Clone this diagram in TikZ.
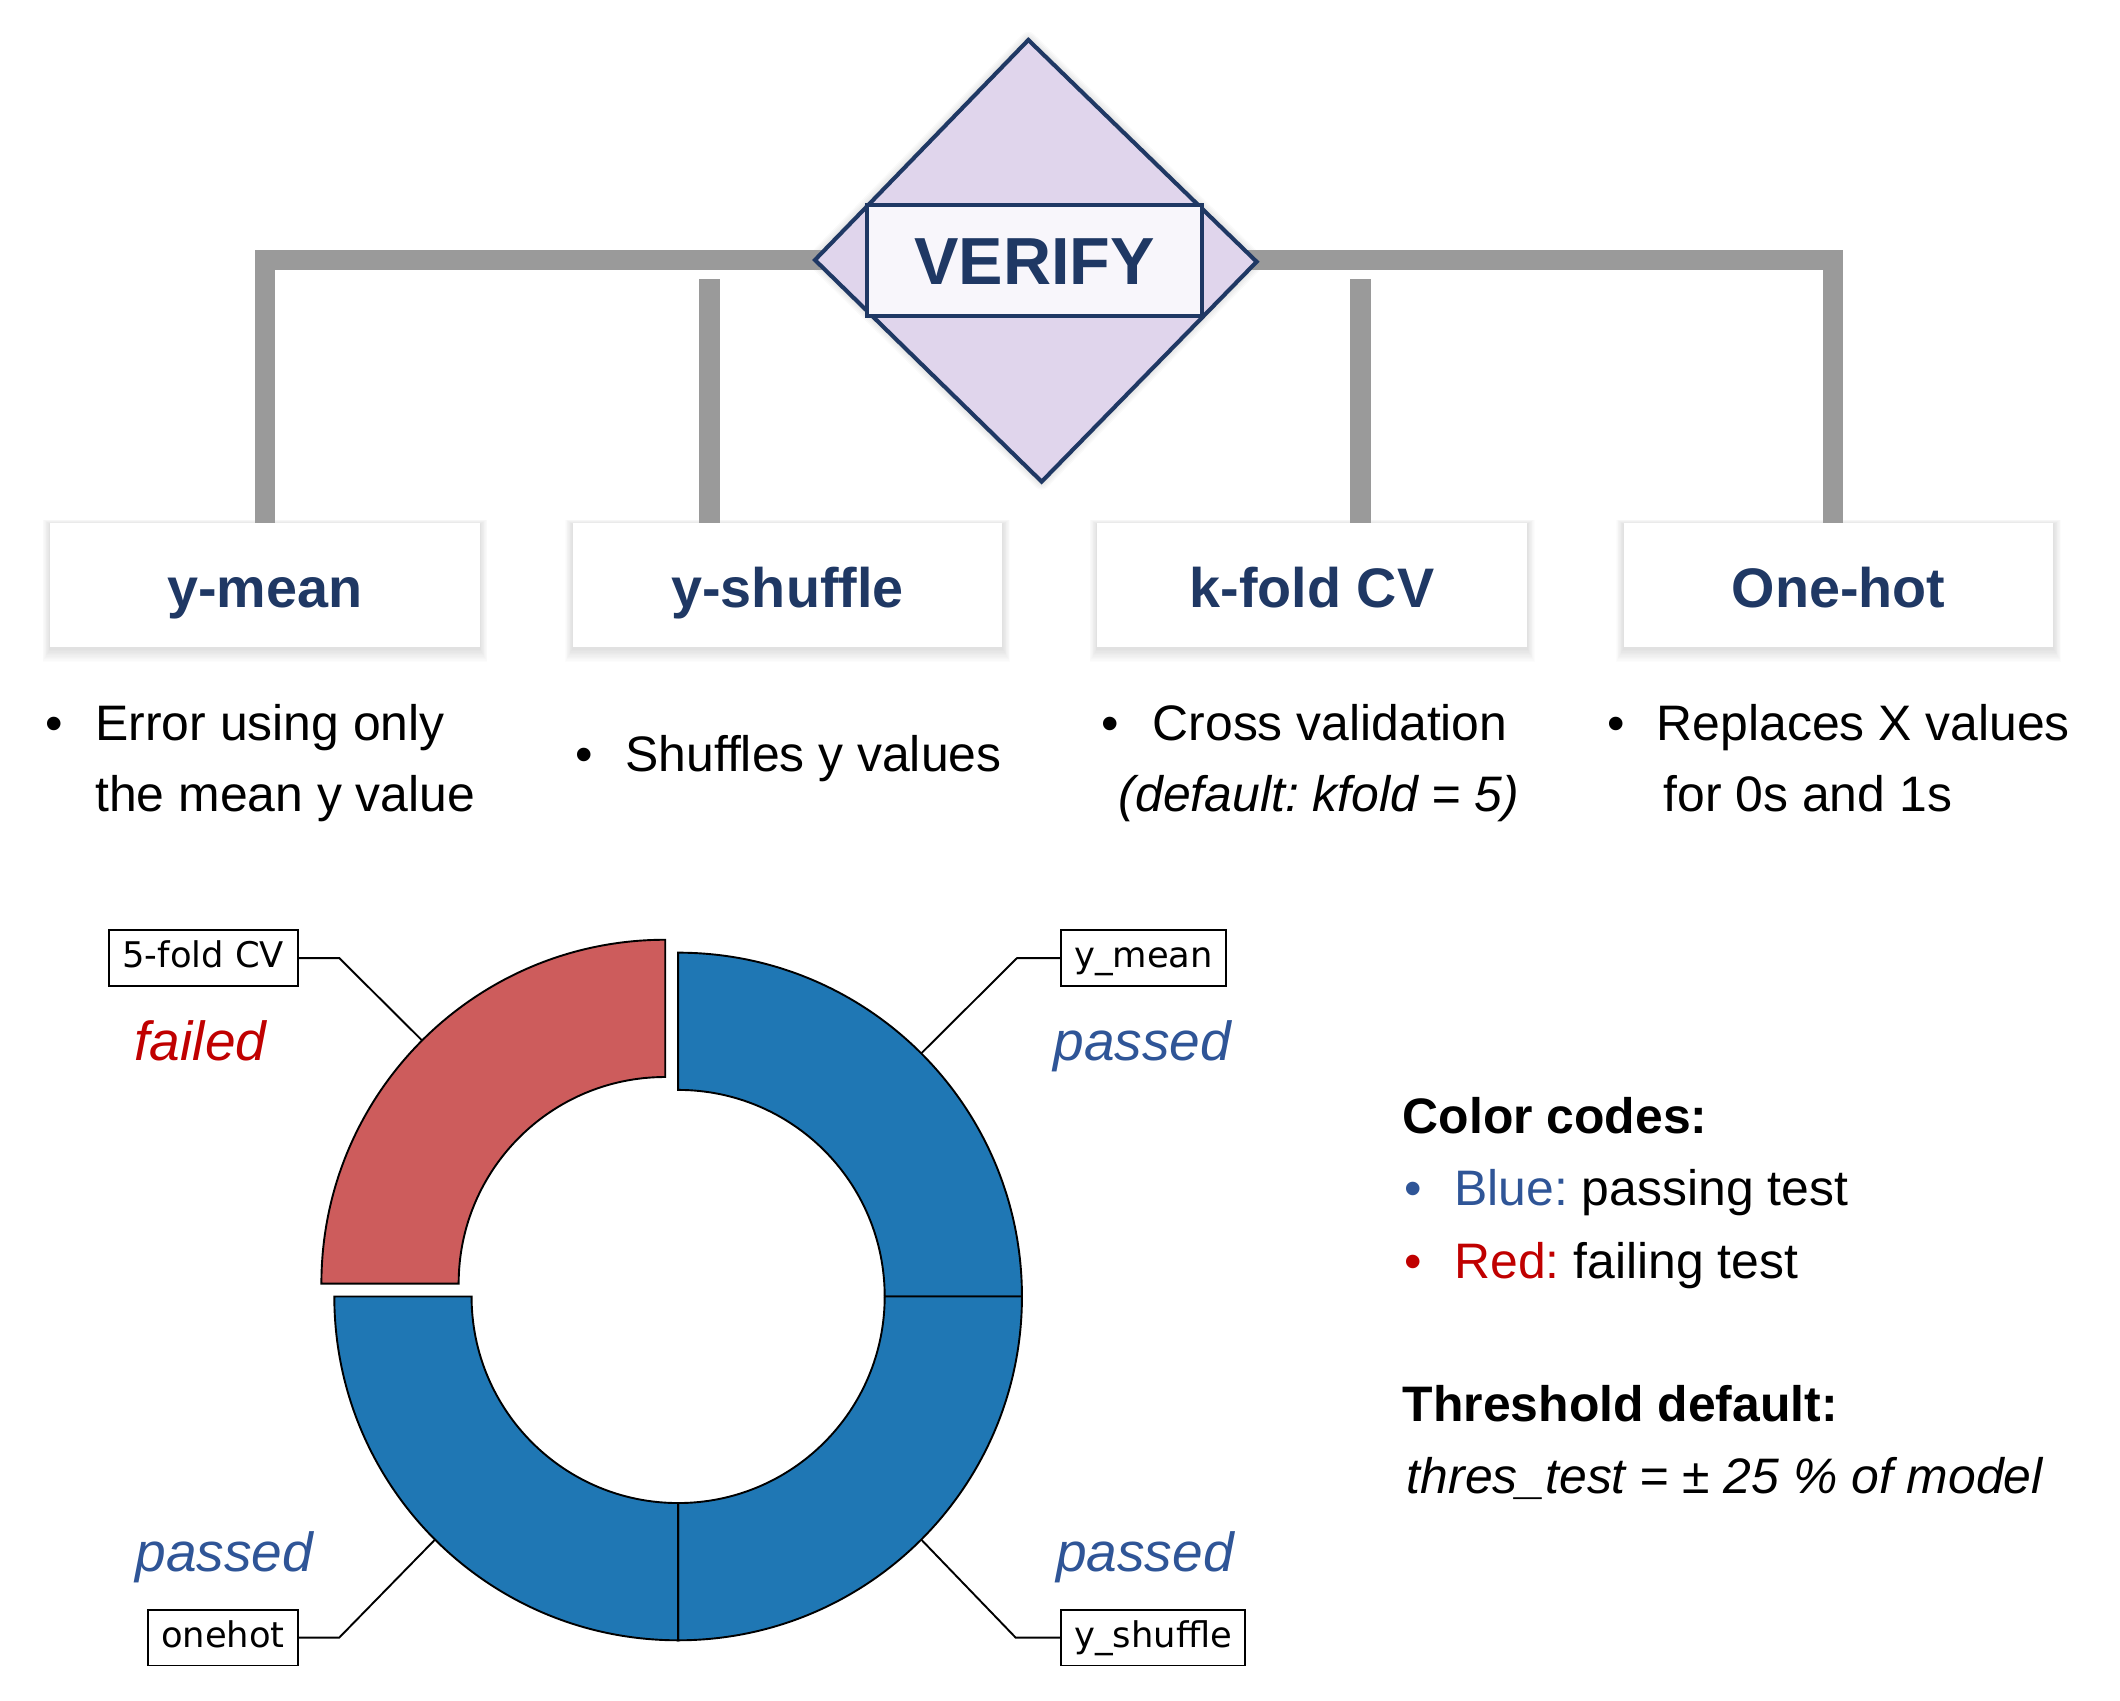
\documentclass[tikz,border=0pt]{standalone}
\usepackage{fontspec}
\setmainfont{Liberation Sans}
\newfontfamily\djv{DejaVu Sans}
\usetikzlibrary{calc,backgrounds}
\pgfdeclarelayer{bgzero}
\pgfsetlayers{bgzero,background,main}
\definecolor{navy}{RGB}{31,56,100}
\definecolor{lav}{RGB}{224,213,236}
\definecolor{verfill}{RGB}{248,246,251}
\definecolor{bargray}{RGB}{154,154,154}
\definecolor{pieblue}{RGB}{31,119,180}
\definecolor{piered}{RGB}{205,92,92}
\definecolor{legblue}{RGB}{47,85,151}
\definecolor{legred}{RGB}{192,0,0}
\frenchspacing
\begin{document}
\frenchspacing
\begin{tikzpicture}[x=1pt,y=-1pt,
  catbox/.style={fill=white, minimum width=316pt, minimum height=91pt, inner sep=0pt,
    text height=33pt, text depth=0pt, text=navy, font=\bfseries\fontsize{41}{48}\selectfont},
  barline/.style={draw=bargray, line width=15pt, line join=miter, line cap=butt},
  txt/.style={anchor=base west, inner sep=0pt, font=\fontsize{36.7}{44}\selectfont},
  lbl/.style={draw=black, line width=1.3pt, fill=white, inner sep=0pt, minimum height=41pt,
    text height=19pt, text depth=5pt, font=\djv\fontsize{26}{30}\selectfont},
  lead/.style={draw=black, line width=1.4pt},
  wedge/.style={draw=black, line width=1.4pt, line join=miter},
  status/.style={anchor=base, inner sep=0pt, font=\itshape\fontsize{40.5}{48}\selectfont}
]
\begin{pgfonlayer}{bgzero}
  \fill[white] (0,0) rectangle (1560,1251);
\end{pgfonlayer}
\useasboundingbox (0,0) rectangle (1560,1251);

% ---------- category boxes ----------
\node[catbox] (ymean)    at (195,430.5)   {y-mean};
\node[catbox] (yshuffle) at (579.5,430.5) {y-shuffle};
\node[catbox] (kfold)    at (965.5,430.5) {k-fold CV};
\node[catbox] (onehot)   at (1353,430.5)  {One-hot};

\begin{pgfonlayer}{background}
  \foreach \n in {ymean,yshuffle,kfold,onehot}{
    \foreach \k in {1,...,10}{
      \fill[black,opacity=0.011] ($(\n.south west)+(-0.55*\k,1.0*\k+1)$) rectangle ($(\n.north east)+(0.55*\k,-0.35*\k+1)$);
    }
  }
\end{pgfonlayer}

% ---------- diamond coordinates ----------
\coordinate (dT) at (756.7,29.4);
\coordinate (dR) at (924.7,192.6);
\coordinate (dB) at (766.5,354.4);
\coordinate (dL) at (599.7,191.3);

% ---------- gray bracket ----------
\draw[barline] (ymean.north) -- (ymean.north |- dL) -- ($(onehot.north |- dL)+(-4,0)$) -- ($(onehot.north)+(-4,0)$);
\coordinate (s1) at (522,205.5);
\coordinate (s2) at (1001,205.5);
\draw[barline] (s1) -- (s1 |- yshuffle.north);
\draw[barline] (s2) -- (s2 |- kfold.north);

% ---------- diamond ----------
\begin{pgfonlayer}{background}
  \foreach \k in {1,...,6}{
    \draw[black, opacity=0.02, line width=2*\k pt, line join=round] (dT) -- (dR) -- (dB) -- (dL) -- cycle;
  }
\end{pgfonlayer}
\draw[navy, line width=3pt, fill=lav, line join=miter] (dT) -- (dR) -- (dB) -- (dL) -- cycle;
\node[draw=navy, line width=3pt, fill=verfill, minimum width=246.5pt, minimum height=81.6pt,
  inner sep=0pt, text height=35.6pt, text depth=0pt, text=navy,
  font=\bfseries\fontsize{49}{56}\selectfont] (verify) at (761.25,191.9) {VERIFY};

% ---------- bullet texts ----------
\node[txt] (b1) at (33,545) {•};
\node[txt] (t1a) at (70,545) {Error using only};
\node[txt] (t1b) at (70,597) {the mean y value};
\node[txt] (b2) at (423,568) {•};
\node[txt] (t2a) at (460,568) {Shuffles y values};
\node[txt] (b3) at (810.5,545) {•};
\node[txt] (t3a) at (848,545) {Cross validation};
\node[txt] (t3b) at (823,597) {\itshape (default: kfold = 5)};
\node[txt] (b4) at (1183,545) {•};
\node[txt] (t4a) at (1219,545) {Replaces X values};
\node[txt] (t4b) at (1224,597) {for 0s and 1s};

% ---------- donut ----------
\coordinate (C) at (499,954);
\coordinate (Cr) at (489.5,944.5);
\filldraw[wedge, fill=pieblue] ($(C)+(270:253)$) arc[start angle=270, end angle=360, radius=253]
  -- ($(C)+(0:152)$) arc[start angle=360, end angle=270, radius=152] -- cycle;
\filldraw[wedge, fill=pieblue] ($(C)+(0:253)$) arc[start angle=0, end angle=90, radius=253]
  -- ($(C)+(90:152)$) arc[start angle=90, end angle=0, radius=152] -- cycle;
\filldraw[wedge, fill=pieblue] ($(C)+(90:253)$) arc[start angle=90, end angle=180, radius=253]
  -- ($(C)+(180:152)$) arc[start angle=180, end angle=90, radius=152] -- cycle;
\filldraw[wedge, fill=piered] ($(Cr)+(180:253)$) arc[start angle=180, end angle=270, radius=253]
  -- ($(Cr)+(270:152)$) arc[start angle=270, end angle=180, radius=152] -- cycle;

\coordinate (pym) at ($(C)+(315:253)$);
\coordinate (psh) at ($(C)+(45:253)$);
\coordinate (poh) at ($(C)+(135:253)$);
\coordinate (pcv) at ($(Cr)+(225:253)$);

\node[lbl, minimum width=139pt] (lcv) at (149.5,705) {5-fold CV};
\node[lbl, minimum width=121pt] (lym) at (841.5,705) {y\_mean};
\node[lbl, minimum width=110pt] (loh) at (164,1205) {onehot};
\node[lbl, minimum width=135pt] (lsh) at (848.5,1205) {y\_shuffle};

\draw[lead] (lcv.east) -- ++(30,0) -- (pcv);
\draw[lead] (lym.west) -- ++(-32,0) -- (pym);
\draw[lead] (loh.east) -- ++(30,0) -- (poh);
\draw[lead] (lsh.west) -- ++(-33,0) -- (psh);

\node[status, text=legred]  (sfail) at (147.5,780) {failed};
\node[status, text=legblue] (sp1)   at (840.5,780) {passed};
\node[status, text=legblue] (sp2)   at (165,1156)  {passed};
\node[status, text=legblue] (sp3)   at (842.5,1156) {passed};

% ---------- legend ----------
\node[txt, font=\bfseries\fontsize{36.7}{44}\selectfont] (cc) at (1032,834) {Color codes:};
\node[txt, text=legblue] (lb1) at (1033,887) {•};
\node[txt] (lb1t) at (1070,887) {\textcolor{legblue}{Blue:} passing test};
\node[txt, text=legred] (lb2) at (1033,940.5) {•};
\node[txt] (lb2t) at (1070,940.5) {\textcolor{legred}{Red:} failing test};
\node[txt, font=\bfseries\fontsize{36.7}{44}\selectfont] (td) at (1032,1046) {Threshold default:};
\node[txt, font=\itshape\fontsize{36.7}{44}\selectfont] (tt) at (1035,1099) {thres\_test = ± 25 \% of model};
\end{tikzpicture}
\end{document}
